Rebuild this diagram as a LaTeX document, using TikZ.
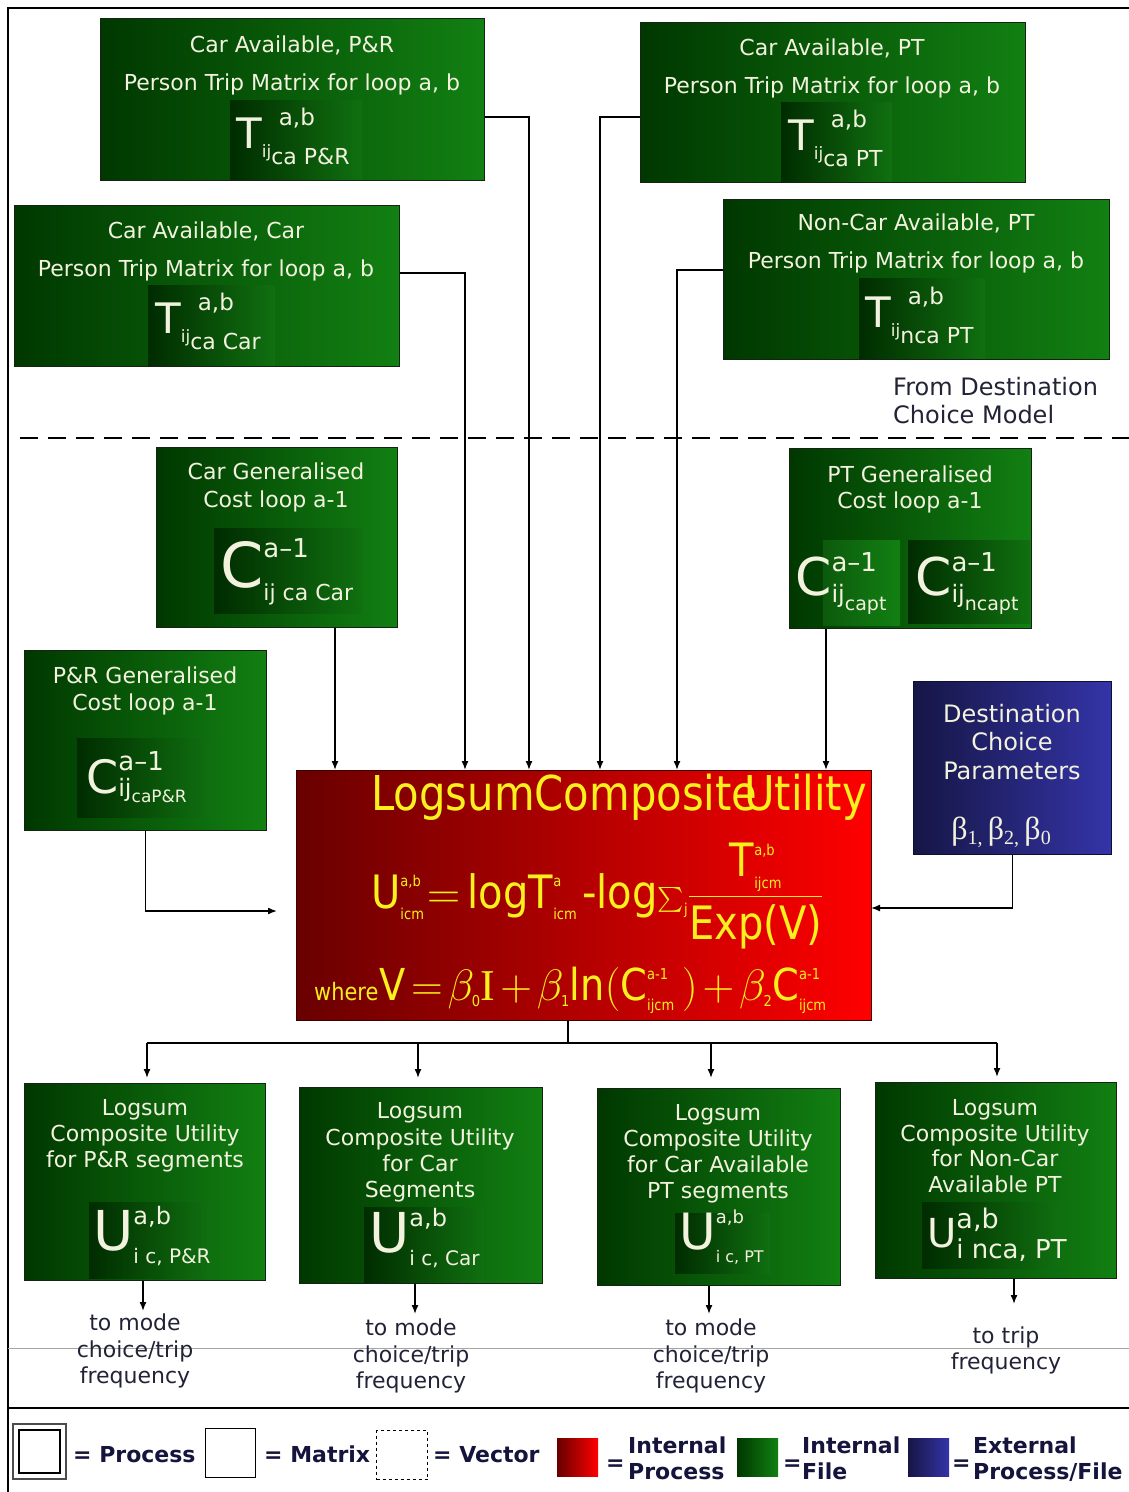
\RequirePackage{fix-cm}
\documentclass[tikz,border=0pt]{standalone}
\usepackage{amsmath}
\usepackage{fontspec}
\setmainfont{DejaVu Sans}
\newfontfamily\condf{DejaVu Sans}[FakeStretch=0.87]
\newfontfamily\timesf{Liberation Serif}
\usetikzlibrary{arrows.meta}
\definecolor{gL}{RGB}{0,56,0}
\definecolor{gR}{RGB}{18,128,18}
\definecolor{pL}{RGB}{0,44,0}
\definecolor{pR}{RGB}{16,112,16}
\definecolor{rL}{RGB}{105,0,0}
\definecolor{rR}{RGB}{255,0,0}
\definecolor{bL}{RGB}{22,22,70}
\definecolor{bR}{RGB}{52,52,168}
\definecolor{ylw}{RGB}{250,240,30}
\definecolor{wtxt}{RGB}{242,242,222}
\definecolor{dtxt}{RGB}{35,35,55}
\definecolor{legtxt}{RGB}{20,20,60}
\definecolor{boxline}{RGB}{20,35,20}
\newcommand\sm[1]{\text{\fontsize{15}{15}\selectfont #1}}
\newcommand\Tf[2]{{\fontsize{42}{42}\selectfont T}\makebox[0pt][l]{\hspace{17pt}\raisebox{23pt}{\fontsize{23}{23}\selectfont a,b}}\raisebox{-9pt}{\fontsize{17}{17}\selectfont #1}\raisebox{-16pt}{\fontsize{22}{22}\selectfont #2}}
\newcommand\Uf[6]{{\fontsize{#1}{#1}\selectfont U}\makebox[0pt][l]{\raisebox{#3}{\fontsize{#2}{#2}\selectfont a,b}}\raisebox{-#5}{\fontsize{#4}{#4}\selectfont #6}}
\begin{document}
\begin{tikzpicture}[x=1pt,y=-1pt,
  gbox/.style={draw=boxline, line width=1.2pt, left color=gL, right color=gR, anchor=north west, inner sep=0pt},
  patch/.style={left color=pL, right color=pR, draw=none},
  btxt/.style={text=wtxt, font=\fontsize{22}{22}\selectfont, anchor=base, inner sep=0pt},
  fml/.style={text=wtxt, anchor=base west, inner sep=0pt},
  arr/.style={-{Latex[length=9pt,width=7pt]}, line width=1.5pt, black},
  conn/.style={line width=1.5pt, black},
  otxt/.style={text=dtxt, font=\fontsize{22}{22}\selectfont, anchor=base, inner sep=0pt},
  legt/.style={text=legtxt, font=\bfseries\fontsize{22}{22}\selectfont, anchor=base west, inner sep=0pt},
  legbox/.style={anchor=north west, inner sep=0pt, minimum width=41pt, minimum height=38pt}
]
\useasboundingbox (0,0) rectangle (1129,1492);
\fill[white] (0,0) rectangle (1129,1492);
% frame
\draw[line width=2.5pt] (8,1492) -- (8,8) -- (1129,8);
\draw[line width=2.5pt] (8,1408) -- (1129,1408);
\draw[gray!70, line width=0.8pt] (8,1348) -- (1129,1348);
\draw[dash pattern=on 18pt off 10pt, line width=1.4pt] (20,438) -- (1129,438);

% ---- top matrices
\node[gbox, minimum width=384pt, minimum height=162pt] (capr) at (100,18) {};
\node[gbox, minimum width=385pt, minimum height=160pt] (capt) at (640,22) {};
\node[gbox, minimum width=385pt, minimum height=161pt] (cacar) at (14,205) {};
\node[gbox, minimum width=386pt, minimum height=160pt] (nca) at (723,199) {};
\fill[patch] (230,100) rectangle (362,179);
\fill[patch] (781,102) rectangle (892,181);
\fill[patch] (148,285) rectangle (275,365);
\fill[patch] (859,278) rectangle (985,358);
\node[btxt] (capr-1) at (292,52) {Car Available, P\&R};
\node[btxt] (capr-2) at (292,90) {Person Trip Matrix for loop a, b};
\node[fml] (capr-f) at (236,148) {\Tf{ij}{ca P\&R}};
\node[btxt] (capt-1) at (832,55) {Car Available, PT};
\node[btxt] (capt-2) at (832,93) {Person Trip Matrix for loop a, b};
\node[fml] (capt-f) at (788,150) {\Tf{ij}{ca PT}};
\node[btxt] (cacar-1) at (206,238) {Car Available, Car};
\node[btxt] (cacar-2) at (206,276) {Person Trip Matrix for loop a, b};
\node[fml] (cacar-f) at (155,333) {\Tf{ij}{ca Car}};
\node[btxt] (nca-1) at (916,230) {Non-Car Available, PT};
\node[btxt] (nca-2) at (916,268) {Person Trip Matrix for loop a, b};
\node[fml] (nca-f) at (865,327) {\Tf{ij}{nca PT}};
\node[text=dtxt, font=\fontsize{24}{24}\selectfont, anchor=base west, inner sep=0pt] (from1) at (893,395) {From Destination};
\node[text=dtxt, font=\fontsize{24}{24}\selectfont, anchor=base west, inner sep=0pt] (from2) at (893,423) {Choice Model};

% ---- generalised costs
\node[gbox, minimum width=241pt, minimum height=180pt] (cargc) at (156,447) {};
\node[gbox, minimum width=242pt, minimum height=180pt] (ptgc) at (789,448) {};
\node[gbox, minimum width=242pt, minimum height=180pt] (prgc) at (24,650) {};
\fill[patch] (214,528) rectangle (362,613);
\fill[left color=gR!70!black, right color=gR] (823,540) rectangle (900,625);
\fill[patch] (908,540) rectangle (1030,623);
\fill[patch] (77,738) rectangle (211,817);
\node[btxt] (cargc-1) at (276,479) {Car Generalised};
\node[btxt] (cargc-2) at (276,507) {Cost loop a-1};
\node[fml] (cargc-f) at (220,587) {{\fontsize{62}{62}\selectfont C}\makebox[0pt][l]{\raisebox{30pt}{\fontsize{26}{26}\selectfont a–1}}\raisebox{-13pt}{\fontsize{22}{22}\selectfont ij ca Car}};
\node[btxt] (ptgc-1) at (910,482) {PT Generalised};
\node[btxt] (ptgc-2) at (910,508) {Cost loop a-1};
\node[fml] (ptgc-f1) at (795,595) {{\fontsize{52}{52}\selectfont C}\makebox[0pt][l]{\raisebox{24pt}{\fontsize{26}{26}\selectfont a–1}}\raisebox{-7pt}{\fontsize{24}{24}\selectfont ij}\raisebox{-15pt}{\fontsize{19}{19}\selectfont capt}};
\node[fml] (ptgc-f2) at (915,595) {{\fontsize{52}{52}\selectfont C}\makebox[0pt][l]{\raisebox{24pt}{\fontsize{26}{26}\selectfont a–1}}\raisebox{-7pt}{\fontsize{24}{24}\selectfont ij}\raisebox{-15pt}{\fontsize{19}{19}\selectfont ncapt}};
\node[btxt] (prgc-1) at (145,683) {P\&R Generalised};
\node[btxt] (prgc-2) at (145,710) {Cost loop a-1};
\node[fml] (prgc-f) at (86,793) {{\fontsize{46}{46}\selectfont C}\makebox[0pt][l]{\raisebox{23pt}{\fontsize{26}{26}\selectfont a–1}}\raisebox{-3pt}{\fontsize{24}{24}\selectfont ij}\raisebox{-9pt}{\fontsize{17}{17}\selectfont caP\&R}};

% ---- destination choice parameters
\node[draw=bL!70!black, line width=1.2pt, left color=bL, right color=bR, anchor=north west, inner sep=0pt, minimum width=198pt, minimum height=173pt] (dest) at (913,681) {};
\node[btxt, font=\fontsize{24}{24}\selectfont] (dest-1) at (1012,722) {Destination};
\node[btxt, font=\fontsize{24}{24}\selectfont] (dest-2) at (1012,750) {Choice};
\node[btxt, font=\fontsize{24}{24}\selectfont] (dest-3) at (1012,779) {Parameters};
\node[btxt] (dest-b) at (1001,839) {\timesf\fontsize{32}{32}\selectfont β\raisebox{-5pt}{\fontsize{20}{20}\selectfont 1,}\,β\raisebox{-5pt}{\fontsize{20}{20}\selectfont 2,}\,β\raisebox{-5pt}{\fontsize{20}{20}\selectfont 0}};

% ---- logsum process
\node[draw=rL!60!black, line width=1.2pt, left color=rL, right color=rR, anchor=north west, inner sep=0pt, minimum width=575pt, minimum height=250pt] (red) at (296,770) {};
\node[anchor=base west, text=ylw, inner sep=0pt, font=\condf\fontsize{48}{48}\selectfont] (rtitle) at (371,810) {LogsumComposite\kern-0.28em Utility};
\node[anchor=base west, text=ylw, inner sep=0pt] (rf2) at (371,908) {\condf\fontsize{46}{52}\selectfont\thickmuskip=1mu\medmuskip=1mu $\text{U}^{\sm{a,b}}_{\sm{icm}}\;{=}\,\text{log}\text{T}^{\sm{a}}_{\sm{icm}}\;\;\text{-log}{\scriptstyle\sum}_{\sm{j}}\dfrac{\text{T}^{\sm{a,b}}_{\sm{ijcm}}}{\text{Exp(V)}}$};
\node[anchor=base west, text=ylw, inner sep=0pt] (rf3) at (314,1000) {\condf{\fontsize{24}{24}\selectfont where}\,\fontsize{44}{50}\selectfont\thickmuskip=2mu\medmuskip=2mu $\text{V}=\beta_{\sm{0}}\text{\timesf I}+\beta_{\sm{1}}\text{ln}(\text{C}^{\sm{a-1}}_{\sm{ijcm}}\,)+\beta_{\sm{2}}\text{C}^{\sm{a-1}}_{\sm{ijcm}}$};

% ---- connectors into the process
\coordinate (rin1) at (335,770);
\coordinate (rin2) at (465,770);
\coordinate (rin3) at (529,770);
\coordinate (rin4) at (600,770);
\coordinate (rin5) at (677,770);
\coordinate (rin6) at (826,770);
\coordinate (prtip) at (277,911);
\coordinate (reast) at (871,908);
\draw[arr] (cargc.south -| rin1) -- (rin1);
\draw[arr] ([yshift=-68pt]cacar.north east) -| (rin2);
\draw[arr] ([yshift=-99pt]capr.north east) -| (rin3);
\draw[arr] ([yshift=-95pt]capt.north west) -| (rin4);
\draw[arr] ([yshift=-71pt]nca.north west) -| (rin5);
\draw[arr] (ptgc.south -| rin6) -- (rin6);
\draw[arr] (prgc.south) |- (prtip);
\draw[arr] (dest.south) |- (reast);

% ---- logsum outputs
\node[gbox, minimum width=241pt, minimum height=197pt] (b1) at (24,1083) {};
\node[gbox, minimum width=243pt, minimum height=196pt] (b2) at (299,1087) {};
\node[gbox, minimum width=243pt, minimum height=197pt] (b3) at (597,1088) {};
\node[gbox, minimum width=241pt, minimum height=196pt] (b4) at (875,1082) {};
\fill[patch] (89,1202) rectangle (210,1278);
\fill[patch] (364,1207) rectangle (484,1282);
\fill[patch] (675,1213) rectangle (770,1273);
\fill[patch] (922,1202) rectangle (1061,1268);
\node[btxt] (b1-1) at (145,1115) {Logsum};
\node[btxt] (b1-2) at (145,1141) {Composite Utility};
\node[btxt] (b1-3) at (145,1167) {for P\&R segments};
\node[fml] (b1-f) at (93,1250) {\Uf{55}{24}{26pt}{20}{13pt}{i c, P\&R}};
\node[btxt] (b2-1) at (420,1118) {Logsum};
\node[btxt] (b2-2) at (420,1145) {Composite Utility};
\node[btxt] (b2-3) at (420,1171) {for Car};
\node[btxt] (b2-4) at (420,1197) {Segments};
\node[fml] (b2-f) at (369,1252) {\Uf{55}{24}{26pt}{20}{13pt}{i c, Car}};
\node[btxt] (b3-1) at (718,1120) {Logsum};
\node[btxt] (b3-2) at (718,1146) {Composite Utility};
\node[btxt] (b3-3) at (718,1172) {for Car Available};
\node[btxt] (b3-4) at (718,1198) {PT segments};
\node[fml] (b3-f) at (679,1249) {\Uf{50}{18}{26pt}{16}{13pt}{i c, PT}};
\node[btxt] (b4-1) at (995,1115) {Logsum};
\node[btxt] (b4-2) at (995,1141) {Composite Utility};
\node[btxt] (b4-3) at (995,1166) {for Non-Car};
\node[btxt] (b4-4) at (995,1192) {Available PT};
\node[fml] (b4-f) at (927,1247) {\Uf{40}{27}{19pt}{26}{11pt}{i nca, PT}};

\coordinate (bsplit) at (568,1043);
\coordinate (bl) at (147,1043);
\coordinate (bm1) at (418,1043);
\coordinate (bm2) at (711,1043);
\coordinate (br) at (997,1043);
\draw[conn] (red.south -| bsplit) -- (bsplit);
\draw[conn] (bl) -- (br);
\draw[arr, shorten >=5pt] (bl) -- (bl |- b1.north);
\draw[arr, shorten >=9pt] (bm1) -- (bm1 |- b2.north);
\draw[arr, shorten >=10pt] (bm2) -- (bm2 |- b3.north);
\draw[arr, shorten >=5pt] (br) -- (br |- b4.north);

\coordinate (o1) at (143,1311);
\coordinate (o2) at (415,1314);
\coordinate (o3) at (709,1314);
\coordinate (o4) at (1014,1304);
\draw[arr] (b1.south -| o1) -- (o1);
\draw[arr] (b2.south -| o2) -- (o2);
\draw[arr] (b3.south -| o3) -- (o3);
\draw[arr] (b4.south -| o4) -- (o4);
\node[otxt] (t1-1) at (135,1330) {to mode};
\node[otxt] (t1-2) at (135,1357) {choice/trip};
\node[otxt] (t1-3) at (135,1383) {frequency};
\node[otxt] (t2-1) at (411,1335) {to mode};
\node[otxt] (t2-2) at (411,1362) {choice/trip};
\node[otxt] (t2-3) at (411,1388) {frequency};
\node[otxt] (t3-1) at (711,1335) {to mode};
\node[otxt] (t3-2) at (711,1362) {choice/trip};
\node[otxt] (t3-3) at (711,1388) {frequency};
\node[otxt] (t4-1) at (1006,1343) {to trip};
\node[otxt] (t4-2) at (1006,1369) {frequency};

% ---- legend
\node[draw=gray!60!black, line width=2.2pt, anchor=north west, inner sep=0pt, minimum width=53pt, minimum height=55pt] (lgp) at (12,1423) {};
\node[draw=black, line width=1.4pt, inner sep=0pt, minimum width=41pt, minimum height=43pt] (lgpin) at (lgp.center) {};
\node[legt] (lgp-t) at (73,1462) {= Process};
\node[draw=black, line width=1.2pt, anchor=north west, inner sep=0pt, minimum width=50pt, minimum height=49pt] (lgm) at (205,1428) {};
\node[legt] (lgm-t) at (264,1462) {= Matrix};
\node[draw=black, dashed, line width=1.2pt, anchor=north west, inner sep=0pt, minimum width=51pt, minimum height=49pt] (lgv) at (376,1430) {};
\node[legt] (lgv-t) at (433,1462) {= Vector};
\node[legbox, left color=rL, right color=rR] (lgr) at (557,1438) {};
\node[legt] (lgr-e) at (606,1470) {=};
\node[legt] (lgr-1) at (628,1453) {Internal};
\node[legt] (lgr-2) at (628,1479) {Process};
\node[legbox, left color=gL, right color=gR] (lgg) at (737,1438) {};
\node[legt] (lgg-e) at (783,1470) {=};
\node[legt] (lgg-1) at (802,1453) {Internal};
\node[legt] (lgg-2) at (802,1479) {File};
\node[legbox, left color=bL, right color=bR] (lgb) at (908,1438) {};
\node[legt] (lgb-e) at (952,1470) {=};
\node[legt] (lgb-1) at (973,1453) {External};
\node[legt] (lgb-2) at (973,1479) {Process/File};
\end{tikzpicture}
\end{document}
